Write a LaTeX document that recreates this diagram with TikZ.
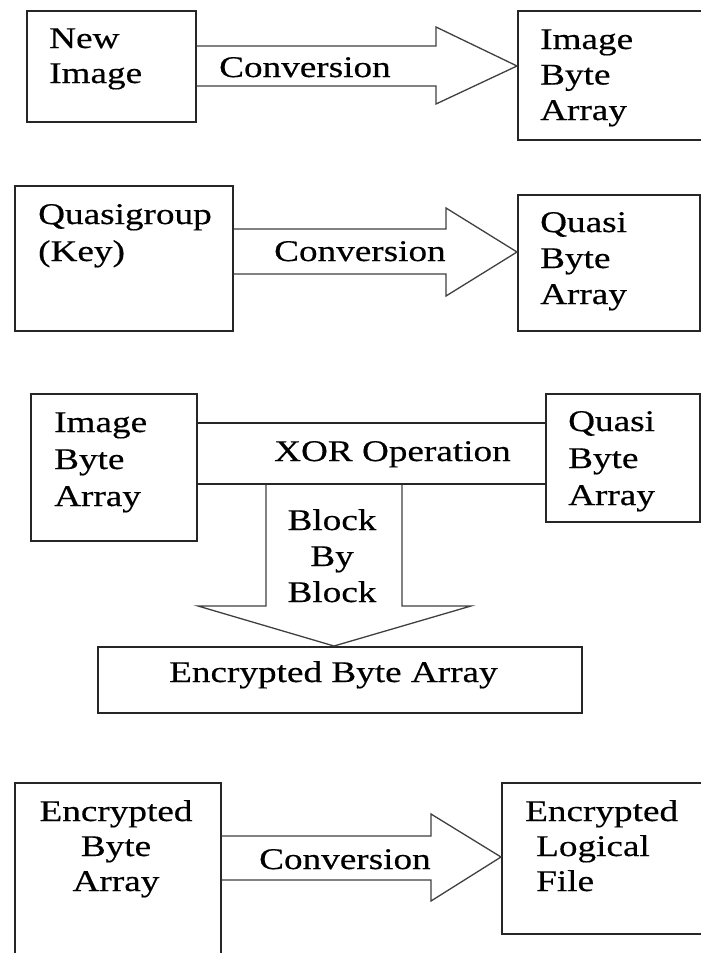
\documentclass[tikz,border=0pt]{standalone}
\usepackage{fontspec}
\setmainfont{Liberation Serif}[FakeStretch=1.24,FakeBold=0.4]
\usetikzlibrary{calc}
% stacked lines with the first baseline as the reference point
\newcommand\stk[2]{\begin{tabular}[t]{@{}#1@{}}#2\end{tabular}}
\begin{document}
\begin{tikzpicture}[x=1pt,y=-1pt,
  box/.style={draw=black!85,line width=1.5pt,inner sep=0,anchor=north west},
  blockarrow/.style={draw=black!75,line width=1.3pt,line join=miter},
  txt/.style={inner sep=0,anchor=base west,font=\fontsize{30}{36}\selectfont},
  ctxt/.style={inner sep=0,anchor=base,font=\fontsize{30}{36}\selectfont}]
\useasboundingbox[fill=white] (0,0) rectangle (701,953);

% --- New image -> image byte array
\node[box,minimum width=169,minimum height=111] (newimg) at (26,10) {};
\node[box,minimum width=203,minimum height=129] (imgbaA) at (517,10) {};
\node[txt,font=\fontsize{30}{35}\selectfont] (newimgT) at (49,48) {\stk{l}{New\\Image}};
\node[txt,font=\fontsize{30}{35.5}\selectfont] (imgbaAT) at (540,49) {\stk{l}{Image\\Byte\\Array}};
\draw[blockarrow] (newimg.east |- 0,46) -- (436,46) -- (436,27) -- (imgbaA.west |- 0,66)
  -- (436,104) -- (436,86) -- (newimg.east |- 0,86);
\node[txt] (convA) at (219,77) {Conversion};

% --- Quasigroup key -> quasi byte array
\node[box,minimum width=218,minimum height=145] (quasig) at (14,185) {};
\node[box,minimum width=182,minimum height=136] (qbaA) at (517,194) {};
\node[txt,font=\fontsize{30}{37}\selectfont] (quasigT) at (38,224) {\stk{l}{Quasigroup\\(Key)}};
\node[txt] (qbaAT) at (540,232) {\stk{l}{Quasi\\Byte\\Array}};
\draw[blockarrow] (quasig.east |- 0,229) -- (446,229) -- (446,208) -- (qbaA.west |- 0,252)
  -- (446,296) -- (446,274) -- (quasig.east |- 0,274);
\node[txt] (convB) at (274,261) {Conversion};

% --- XOR of both byte arrays, block by block
\node[box,minimum width=166,minimum height=147] (imgbaB) at (30,393) {};
\node[box,minimum width=349,minimum height=61] (xor) at (196,422) {};
\node[box,minimum width=154,minimum height=128] (qbaB) at (545,393) {};
\node[box,minimum width=484,minimum height=66] (encba) at (97,646) {};
\node[txt,font=\fontsize{30}{37}\selectfont] (imgbaBT) at (54,432) {\stk{l}{Image\\Byte\\Array}};
\node[txt,font=\fontsize{30}{37}\selectfont] (qbaBT) at (568,431) {\stk{l}{Quasi\\Byte\\Array}};
\node[txt] (xorT) at (274,461) {XOR Operation};
\draw[blockarrow] (266,0 |- xor.south) -- (266,606) -- (198,606) -- (334,0 |- encba.north)
  -- (471,606) -- (402,606) -- (402,0 |- xor.south);
\node[ctxt] (blockT) at (332,530) {\stk{c}{Block\\By\\Block}};
\node[txt] (encbaT) at (169,682) {Encrypted Byte Array};

% --- Encrypted byte array -> encrypted logical file
\node[box,minimum width=206,minimum height=188] (encbaB) at (14,782) {};
\node[box,minimum width=219,minimum height=151] (encfile) at (501,782) {};
\node[ctxt,font=\fontsize{30}{35}\selectfont] (encbaBT) at (116,821) {\stk{c}{Encrypted\\Byte\\Array}};
\node[txt,font=\fontsize{30}{35}\selectfont] (encfileT) at (525,821) {\stk{l}{Encrypted\\\hspace*{11pt}Logical\\\hspace*{11pt}File}};
\draw[blockarrow] (encbaB.east |- 0,836) -- (431,836) -- (431,814) -- (encfile.west |- 0,857)
  -- (431,901) -- (431,880) -- (encbaB.east |- 0,880);
\node[txt] (convC) at (259,869) {Conversion};
\end{tikzpicture}
\end{document}
